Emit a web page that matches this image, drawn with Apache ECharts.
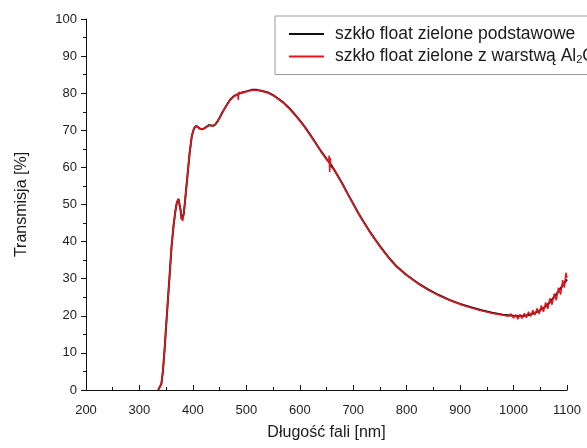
<!DOCTYPE html>
<html>
<head>
<meta charset="utf-8">
<script src="https://cdn.jsdelivr.net/npm/echarts@6/dist/echarts.min.js"></script>
<style>
  html, body { margin: 0; padding: 0; background: #fff; }
  #chart { width: 587px; height: 448px; }
</style>
</head>
<body>
<div id="chart"></div>
<script>
// Transmission spectra of green float glass, with and without an Al2O3 layer
const seriesNames = ['szkło float zielone podstawowe', 'szkło float zielone z warstwą Al{sub|2}O{sub|3}'];

// Uncoated glass: wavelength [nm] and transmission [%]
const wlBase = [335, 338, 341, 344, 347, 351, 356, 360, 364, 367, 370, 373, 375, 377, 379, 381, 383, 386, 390, 394, 398,
  402, 406, 410, 414, 418, 422, 426, 430, 434, 438, 442, 446, 450, 455, 460, 465, 470, 475, 480, 490,
  500, 510, 520, 530, 540, 550, 560, 570, 580, 590, 600, 610, 620, 630, 640, 650, 660, 670, 680, 690,
  700, 710, 720, 730, 740, 750, 760, 770, 780, 790, 800, 820, 840, 860, 880, 900, 920, 940, 960, 980,
  1000, 1010, 1020, 1030, 1040, 1050, 1060, 1070, 1080, 1090, 1100];
const tBase = [0, 0.3, 1.6, 5.2, 10.8, 19.5, 30, 38.5, 44.5, 48, 50.5, 51.5, 51, 48.5, 46, 45.5, 47.5, 52, 58, 64, 68.5,
  70.5, 71.2, 70.8, 70.4, 70.3, 70.6, 71, 71.4, 71.3, 71.2, 71.6, 72.4, 73.4, 74.8, 76, 77.2, 78.3, 79, 79.5, 80.1,
  80.5, 80.9, 80.9, 80.6, 80.2, 79.5, 78.5, 77.4, 76, 74.4, 72.7, 70.8, 68.7, 66.5, 64.3, 62.3, 60.4, 58, 55.5, 52.8,
  50.2, 47.6, 45.2, 42.9, 40.8, 38.8, 36.9, 35.1, 33.5, 32.2, 31, 28.9, 27.1, 25.6, 24.3, 23.2, 22.3, 21.5, 20.8, 20.3,
  20, 19.9, 20, 20.3, 20.8, 21.5, 22.5, 24, 25.8, 27.8, 29.8];

// Coated glass: wavelength [nm] and transmission [%]
const wlCoated = [335, 338, 341, 344, 347, 351, 356, 360, 364, 367, 370, 373, 375, 377, 379, 381, 383, 386, 390, 394, 398,
  402, 406, 410, 414, 418, 422, 426, 430, 434, 438, 442, 446, 450, 455, 460, 465, 470, 475, 480, 484, 485, 486, 487, 490,
  500, 510, 520, 530, 540, 550, 560, 570, 580, 590, 600, 610, 620, 630, 640, 650, 654, 655, 656, 657, 658, 660, 664, 670, 680, 690,
  700, 710, 720, 730, 740, 750, 760, 770, 780, 790, 800, 820, 840, 860, 880, 900, 920, 940, 960, 980,
  990, 995, 1000, 1004, 1008, 1012, 1016, 1020, 1024, 1028, 1032, 1036, 1040, 1044, 1048, 1052, 1056, 1060,
  1064, 1068, 1072, 1076, 1080, 1084, 1088, 1092, 1095, 1098, 1100];
const tCoated = [0, 0.3, 1.6, 5.2, 10.8, 19.5, 30, 38.5, 44.5, 48, 50.5, 51.4, 51, 48.6, 46.2, 45.6, 47.4, 52, 58, 64, 68.5,
  70.5, 71.1, 70.8, 70.4, 70.3, 70.6, 71, 71.3, 71.3, 71.2, 71.6, 72.4, 73.4, 74.8, 76, 77.2, 78.2, 78.9, 79.4, 79.7, 78.2, 80.3, 79.8, 80,
  80.4, 80.8, 80.8, 80.5, 80.1, 79.4, 78.4, 77.3, 75.9, 74.3, 72.6, 70.7, 68.6, 66.4, 64.2, 62.2, 61.6, 63.2, 58.8, 62.6, 60.2, 60.2, 59.6, 57.9, 55.4, 52.7,
  50.1, 47.5, 45.1, 42.8, 40.7, 38.7, 36.8, 35, 33.4, 32.1, 30.9, 28.8, 27, 25.5, 24.2, 23.1, 22.2, 21.4, 20.7, 20.2,
  19.9, 20.5, 19.4, 20.3, 19.1, 20.4, 19.3, 20.7, 19.5, 21.1, 19.8, 21.5, 20.2, 22, 20.5, 22.8, 21.1, 23.6,
  21.9, 24.7, 23, 26, 24.2, 27.6, 25.7, 29.6, 27.6, 31.6, 30.2];

// x and y tick settings
const xMin = 200, xMax = 1100, xStep = 100;
const yMin = 0, yMax = 100, yStep = 10;

function pairs(xs, ys) {
  return xs.map((x, i) => [x, ys[i]]);
}

const chart = echarts.init(document.getElementById('chart'), null, { renderer: 'canvas' });

const FONT = 'Liberation Sans, Arial, sans-serif';
const axisText = { color: '#222', fontFamily: FONT, fontSize: 13, formatter: v => String(v) };

chart.setOption({
  animation: false,
  backgroundColor: '#ffffff',
  grid: { left: 86, right: 20, top: 19, bottom: 58, containLabel: false },
  legend: {
    orient: 'vertical',
    left: 275,
    top: 16,
    padding: [9, 12, 9, 14],
    itemGap: 2,
    itemWidth: 35,
    itemHeight: 2,
    icon: 'rect',
    borderColor: '#9a9a9a',
    borderWidth: 1,
    backgroundColor: '#fff',
    textStyle: {
      color: '#1a1a1a',
      fontFamily: FONT,
      fontSize: 17.5,
      lineHeight: 17,
      padding: [0, 0, 0, 6],
      rich: {
        sub: { fontSize: 11, lineHeight: 17, verticalAlign: 'bottom', padding: [9, 0, 0, 0], color: '#1a1a1a',
               fontFamily: FONT }
      }
    },
    data: seriesNames.map(n => ({ name: n }))
  },
  xAxis: {
    type: 'value',
    min: xMin,
    max: xMax,
    interval: xStep,
    name: 'Długość fali [nm]',
    nameLocation: 'middle',
    nameGap: 35,
    nameTextStyle: { color: '#1a1a1a', fontFamily: FONT, fontSize: 16 },
    axisLine: { show: true, onZero: false, lineStyle: { color: '#111', width: 1 } },
    axisTick: { show: true, inside: true, length: 5, lineStyle: { color: '#111' } },
    minorTick: { show: true, splitNumber: 2, length: 3, lineStyle: { color: '#111' } },
    axisLabel: Object.assign({ margin: 14 }, axisText),
    splitLine: { show: false }
  },
  yAxis: {
    type: 'value',
    min: yMin,
    max: yMax,
    interval: yStep,
    name: 'Transmisja [%]',
    nameLocation: 'middle',
    nameGap: 56,
    nameTextStyle: { color: '#1a1a1a', fontFamily: FONT, fontSize: 16 },
    axisLine: { show: true, lineStyle: { color: '#111', width: 1 } },
    axisTick: { show: true, inside: false, length: 5, lineStyle: { color: '#111' } },
    minorTick: { show: true, splitNumber: 2, length: 3, lineStyle: { color: '#111' } },
    axisLabel: Object.assign({ margin: 9 }, axisText),
    splitLine: { show: false }
  },
  series: [
    {
      name: seriesNames[0],
      type: 'line',
      data: pairs(wlBase, tBase),
      showSymbol: false,
      symbol: 'none',
      color: '#111111',
      lineStyle: { color: '#111111', width: 2 },
      z: 2
    },
    {
      name: seriesNames[1],
      type: 'line',
      data: pairs(wlCoated, tCoated),
      showSymbol: false,
      symbol: 'none',
      color: '#e8161c',
      lineStyle: { color: '#e8161c', width: 1.5 },
      z: 3
    }
  ]
});
</script>
</body>
</html>
